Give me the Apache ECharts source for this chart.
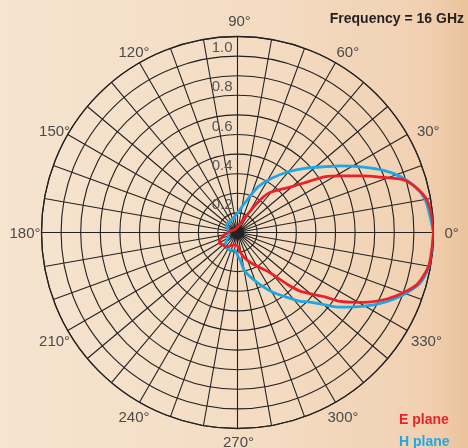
<!DOCTYPE html>
<html><head><meta charset="utf-8">
<script src="https://cdn.jsdelivr.net/npm/echarts@6/dist/echarts.min.js"></script>
<style>html,body{margin:0;padding:0;}#c{width:468px;height:448px;}</style>
</head><body><div id="c"></div>
<script>
// E plane (red) pattern: angle in degrees, normalized radius
const eAngles = [0, 4.7, 9.8, 13.9, 17.6, 21.2, 24.2, 28.9, 32.5, 35.7, 40.2, 46.2, 51.8, 55.9, 60.6, 68.7, 80, 100, 130, 160, 185, 200, 210, 220, 229, 240, 250, 260, 268, 273, 277.4, 286.2, 294.7, 301.3, 308.2, 311.7, 314.1, 317.3, 323.7, 326.1, 331, 336, 340, 344, 349.9, 354.9, 360];
const eValues = [1.0, 0.995, 0.98, 0.942, 0.889, 0.78, 0.705, 0.598, 0.53, 0.445, 0.362, 0.30, 0.254, 0.19, 0.112, 0.059, 0.035, 0.025, 0.02, 0.03, 0.06, 0.092, 0.108, 0.098, 0.096, 0.08, 0.068, 0.064, 0.066, 0.075, 0.099, 0.137, 0.173, 0.204, 0.254, 0.313, 0.373, 0.445, 0.554, 0.631, 0.735, 0.834, 0.90, 0.955, 0.99, 0.995, 1.0];
// H plane (blue) pattern
const hAngles = [0, 4.7, 9.9, 14.5, 19, 23, 27.4, 33, 36.9, 43.6, 50.1, 57.8, 65.6, 72.5, 88, 106, 115, 145, 175, 204, 225, 247, 262, 272, 275.5, 279.2, 284.3, 292.3, 300, 306.5, 312.8, 315.1, 320.4, 324, 332, 338.5, 344.5, 351, 360];
const hValues = [1.0, 0.986, 0.972, 0.936, 0.878, 0.81, 0.724, 0.625, 0.559, 0.475, 0.404, 0.327, 0.257, 0.183, 0.106, 0.075, 0.07, 0.067, 0.047, 0.052, 0.09, 0.097, 0.092, 0.125, 0.14, 0.185, 0.224, 0.28, 0.349, 0.407, 0.48, 0.5, 0.58, 0.648, 0.786, 0.89, 0.967, 0.995, 1.0];
const angleTicks = [0, 30, 60, 90, 120, 150, 180, 210, 240, 270, 300, 330];
const radiusTicks = [0.2, 0.4, 0.6, 0.8, 1.0];
const titleText = 'Frequency = 16 GHz';

const FONT = "'Liberation Sans', Arial, sans-serif";
const GRID = '#222222';
const RED = '#ec2028';
const BLUE = '#1ea7e4';
const center = [237.5, 232.5];
const R = 196;

// per-label padding [top, right, bottom, left] to place angle labels
const labelPad = {
  0: [3, 0, 0, 31], 30: [0, 0, 5, 27], 60: [0, 0, 20, 11], 90: [0, 0, 27, 4],
  120: [0, 0, 20, 0], 150: [0, 15, 5, 0], 180: [3, 21, 0, 0], 210: [14, 15, 0, 0],
  240: [25, 0, 0, 0], 270: [27, 0, 0, 2], 300: [25, 0, 0, 2], 330: [14, 0, 0, 21]
};
const rich = {};
angleTicks.forEach(a => {
  rich['a' + a] = { padding: labelPad[a], fontSize: 15, fontFamily: FONT, color: '#4a4a4a' };
});

const legendText = { fontFamily: FONT, fontWeight: 'bold', fontSize: 14 };

const chart = echarts.init(document.getElementById('c'));
chart.setOption({
  animation: false,
  backgroundColor: {
    type: 'linear', x: 0, y: 0, x2: 1, y2: 0,
    colorStops: [
      { offset: 0, color: '#f6e4d0' },
      { offset: 0.55, color: '#f4dcc3' },
      { offset: 0.9, color: '#f1d1b2' },
      { offset: 1, color: '#ebc39d' }
    ]
  },
  textStyle: { fontFamily: FONT },
  title: {
    text: titleText, right: 4, top: 12, padding: 0,
    textStyle: { fontFamily: FONT, fontWeight: 'bold', fontSize: 14, color: '#231f20' }
  },
  legend: [
    {
      left: 393, top: 413, padding: 0, itemWidth: 0, itemHeight: 0, selectedMode: false,
      textStyle: legendText,
      data: [{ name: 'E plane', textStyle: { color: RED } }]
    },
    {
      left: 393, top: 435, padding: 0, itemWidth: 0, itemHeight: 0, selectedMode: false,
      textStyle: legendText,
      data: [{ name: 'H plane', textStyle: { color: BLUE } }]
    }
  ],
  polar: [
    { center: center, radius: R },
    { center: center, radius: R }
  ],
  angleAxis: [
    {
      polarIndex: 0, type: 'value', min: 0, max: 360, interval: 10,
      startAngle: 0, clockwise: false,
      axisLine: { show: true, lineStyle: { color: GRID, width: 1.3 } },
      axisTick: { show: false },
      splitLine: { show: true, lineStyle: { color: GRID, width: 1.1 } },
      axisLabel: {
        show: true, margin: -20,
        formatter: v => angleTicks.indexOf(v) >= 0 ? '{a' + v + '|' + v + '°}' : '',
        rich: rich
      }
    },
    {
      polarIndex: 1, type: 'value', min: 0, max: 360,
      startAngle: 90, clockwise: false,
      axisLine: { show: false }, axisTick: { show: false },
      splitLine: { show: false }, axisLabel: { show: false }
    }
  ],
  radiusAxis: [
    {
      polarIndex: 0, type: 'value', min: 0, max: 1, interval: 0.1,
      axisLine: { show: false }, axisTick: { show: false },
      axisLabel: { show: false },
      splitLine: { show: true, lineStyle: { color: GRID, width: 1.1 } }
    },
    {
      polarIndex: 1, type: 'value', min: 0, max: 1, interval: 0.1,
      axisLine: { show: false }, axisTick: { show: false },
      splitLine: { show: false },
      axisLabel: {
        show: true, margin: 5, align: 'right', verticalAlign: 'top',
        padding: [4, 0, 0, 0],
        fontSize: 15, fontFamily: FONT, color: '#555555',
        formatter: v => radiusTicks.some(t => Math.abs(t - v) < 1e-6) ? v.toFixed(1) : ''
      }
    }
  ],
  series: [
    {
      name: 'H plane', type: 'line', coordinateSystem: 'polar', polarIndex: 0,
      showSymbol: false, smooth: 0.25, color: BLUE,
      lineStyle: { color: BLUE, width: 2.8 },
      data: hAngles.map((a, i) => [hValues[i], a]), z: 3
    },
    {
      name: 'E plane', type: 'line', coordinateSystem: 'polar', polarIndex: 0,
      showSymbol: false, smooth: 0.25, color: RED,
      lineStyle: { color: RED, width: 2.8 },
      data: eAngles.map((a, i) => [eValues[i], a]), z: 4
    }
  ]
});
</script>
</body></html>
